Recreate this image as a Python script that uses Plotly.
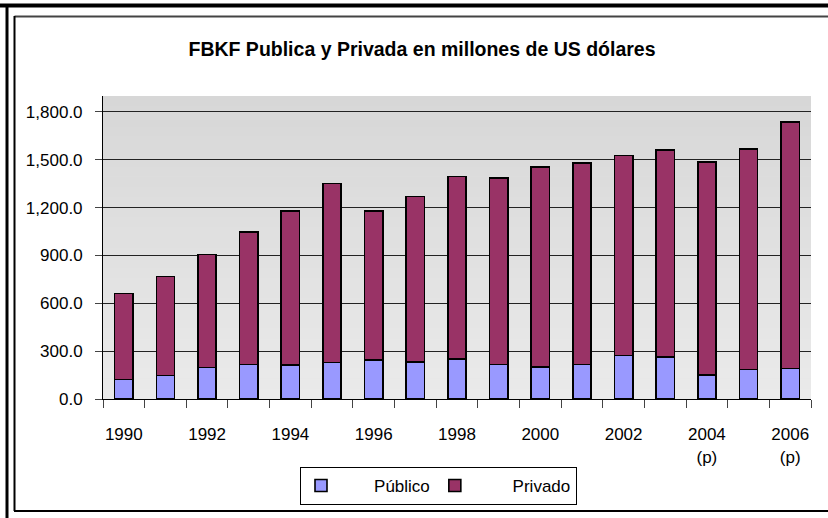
import plotly.graph_objects as go

# Gross fixed capital formation, millions of US dollars
years = ["1990", "1991", "1992", "1993", "1994", "1995", "1996", "1997", "1998",
         "1999", "2000", "2001", "2002", "2003", "2004", "2005", "2006"]
year_labels = ["1990", "", "1992", "", "1994", "", "1996", "", "1998",
               "", "2000", "", "2002", "", "2004<br>(p)", "", "2006<br>(p)"]
publico = [122, 147, 197, 217, 214, 228, 243, 232, 252,
           216, 199, 216, 272, 262, 150, 186, 191]
total = [662, 767, 905, 1046, 1178, 1352, 1178, 1271, 1396,
         1385, 1455, 1479, 1526, 1562, 1485, 1569, 1738]
privado = [t - p for t, p in zip(total, publico)]
y_ticks = [0, 300, 600, 900, 1200, 1500, 1800]

FONT = "Liberation Sans, Arial, sans-serif"
NBSP = "\u00a0"
W, H = 828, 518
ML, MR, MT, MB = 103, 17, 96, 119
PW, PH = W - ML - MR, H - MT - MB


def px_x(px):
    return (px - ML) / PW


def px_y(py):
    return (H - MB - py) / PH


fig = go.Figure()
fig.add_trace(go.Bar(x=years, y=publico, name=NBSP * 7 + "Público",
                     marker=dict(color="#9999FF", line=dict(color="black", width=1.6))))
fig.add_trace(go.Bar(x=years, y=privado, name=NBSP * 8 + "Privado",
                     marker=dict(color="#993366", line=dict(color="black", width=1.6))))

shapes = []
# vertical grey gradient behind the plot area (paper 0..1 is the plot area)
n = 30
top_c, bot_c = 0xD7, 0xEA
for i in range(n):
    c = int(round(bot_c + (top_c - bot_c) * i / (n - 1)))
    shapes.append(dict(type="rect", xref="paper", yref="paper",
                       x0=0, x1=1, y0=i / n, y1=min(1, (i + 1) / n + 0.002),
                       fillcolor=f"rgb({c},{c},{c})",
                       line=dict(width=0, color="rgba(0,0,0,0)"), layer="below"))

# outer heavy frame (top and left)
shapes.append(dict(type="line", xref="paper", yref="paper",
                   x0=px_x(0), x1=px_x(W), y0=px_y(5.5), y1=px_y(5.5),
                   line=dict(color="black", width=4)))
shapes.append(dict(type="line", xref="paper", yref="paper",
                   x0=px_x(7), x1=px_x(7), y0=px_y(4), y1=px_y(H),
                   line=dict(color="black", width=3)))
# inner chart frame
shapes.append(dict(type="line", xref="paper", yref="paper",
                   x0=px_x(14.5), x1=px_x(W), y0=px_y(16.5), y1=px_y(16.5),
                   line=dict(color="#444444", width=2)))
shapes.append(dict(type="line", xref="paper", yref="paper",
                   x0=px_x(14.5), x1=px_x(14.5), y0=px_y(16), y1=px_y(511),
                   line=dict(color="black", width=2)))
shapes.append(dict(type="line", xref="paper", yref="paper",
                   x0=px_x(14), x1=px_x(W), y0=px_y(511), y1=px_y(511),
                   line=dict(color="black", width=2)))

fig.update_layout(
    width=W, height=H,
    margin=dict(l=ML, r=MR, t=MT, b=MB, autoexpand=False),
    paper_bgcolor="white", plot_bgcolor="#e0e0e0",
    barmode="stack", bargap=0.56,
    font=dict(family=FONT, size=17, color="black"),
    title=dict(text="<b>FBKF Publica y Privada en millones de US dólares</b>",
               x=422 / W, xref="container", xanchor="center",
               y=1 - 49 / H, yref="container", yanchor="middle",
               font=dict(family=FONT, size=19.5, color="black")),
    xaxis=dict(type="category", automargin=False, tickvals=years, ticktext=year_labels,
               tickson="boundaries", ticks="outside", ticklen=8, tickangle=0,
               showline=True, linecolor="black", showgrid=False, ticklabelstandoff=20),
    yaxis=dict(range=[0, 1900], automargin=False, tickvals=y_ticks, tickformat=",.1f",
               ticks="outside", ticklen=7, showline=True, linecolor="black",
               showgrid=True, gridcolor="#222222", zeroline=False, ticklabelstandoff=9),
    legend=dict(orientation="h", x=px_x(300), xanchor="left", y=px_y(467), yanchor="top",
                bgcolor="white", bordercolor="black", borderwidth=1, itemwidth=30,
                traceorder="normal"),
    shapes=shapes,
)

fig.write_html("out.html", config={"displayModeBar": False})
